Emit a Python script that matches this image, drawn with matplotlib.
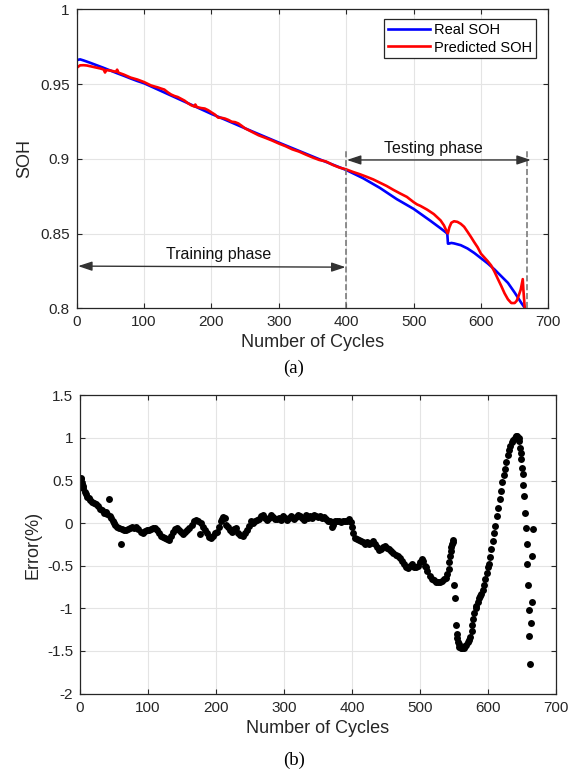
import matplotlib
matplotlib.use("Agg")
import matplotlib.pyplot as plt
from matplotlib.ticker import FuncFormatter, MultipleLocator

plt.rcParams["font.family"] = ["Liberation Sans", "DejaVu Sans"]
plt.rcParams["axes.unicode_minus"] = False

# measured capacity ratio
cycles_real = [0, 5, 10, 20, 30, 40, 50, 60, 70, 80, 90, 100, 120, 140, 160, 180,
               200, 220, 240, 260, 280, 300, 320, 340, 360, 380, 400, 425, 450,
               475, 500, 525, 540, 550, 551, 553, 556, 560, 570, 580, 590, 600,
               610, 620, 630, 640, 650, 660, 667]
soh_real = [0.9660, 0.9665, 0.9658, 0.9642, 0.9625, 0.9608, 0.9590, 0.9572, 0.9555,
            0.9537, 0.9520, 0.9505, 0.9464, 0.9423, 0.9382, 0.9341, 0.9300, 0.9262,
            0.9223, 0.9184, 0.9146, 0.9108, 0.9071, 0.9034, 0.8997, 0.8961, 0.8925,
            0.8870, 0.8805, 0.8730, 0.8665, 0.8585, 0.8535, 0.8500, 0.8432, 0.8433,
            0.8437, 0.8434, 0.8422, 0.8400, 0.8370, 0.8335, 0.8300, 0.8260, 0.8215,
            0.8170, 0.8105, 0.8035, 0.7990]

# model output
cycles_pred = [0, 5, 10, 15, 20, 25, 30, 35, 40, 42, 44, 50, 55, 58, 60, 62, 70, 80,
               90, 100, 110, 115, 120, 125, 130, 135, 140, 145, 150, 155, 160, 165,
               170, 175, 176, 178, 180, 185, 190, 195, 200, 205, 210, 215, 220, 225,
               230, 235, 240, 245, 250, 260, 270, 280, 290, 300, 310, 320, 330, 340,
               350, 360, 370, 380, 390, 400, 410, 420, 430, 440, 450, 460, 470, 480,
               490, 500, 505, 510, 520, 530, 540, 545, 550, 551, 553, 556, 560, 565,
               570, 575, 580, 585, 590, 595, 600, 605, 610, 615, 620, 625, 630, 635,
               640, 645, 650, 653, 656, 659, 662, 663, 664, 665, 666]
soh_pred = [0.9609, 0.9625, 0.9626, 0.9624, 0.9619, 0.9614, 0.9609, 0.9604, 0.9597,
            0.9577, 0.9593, 0.9590, 0.9585, 0.9582, 0.9596, 0.9576, 0.9563, 0.9543,
            0.9530, 0.9513, 0.9491, 0.9484, 0.9478, 0.9470, 0.9463, 0.9445, 0.9430,
            0.9420, 0.9413, 0.9401, 0.9389, 0.9372, 0.9358, 0.9349, 0.9363, 0.9348,
            0.9344, 0.9339, 0.9336, 0.9325, 0.9310, 0.9296, 0.9275, 0.9274, 0.9269,
            0.9260, 0.9248, 0.9245, 0.9236, 0.9220, 0.9203, 0.9180, 0.9157, 0.9140,
            0.9122, 0.9102, 0.9084, 0.9063, 0.9048, 0.9028, 0.9009, 0.8992, 0.8982,
            0.8959, 0.8941, 0.8929, 0.8912, 0.8897, 0.8880, 0.8862, 0.8840, 0.8818,
            0.8792, 0.8768, 0.8745, 0.8710, 0.8695, 0.8685, 0.8660, 0.8630, 0.8588,
            0.8555, 0.8505, 0.8502, 0.8540, 0.8572, 0.8582, 0.8578, 0.8565, 0.8545,
            0.8512, 0.8478, 0.8442, 0.8408, 0.8365, 0.8340, 0.8315, 0.8287, 0.8245,
            0.8197, 0.8150, 0.8100, 0.8060, 0.8035, 0.8035, 0.8050, 0.8085, 0.8125,
            0.8195, 0.8120, 0.8060, 0.8000, 0.7990]

# prediction error in percent
err_cycles = [1, 2, 3, 4, 5, 7, 9, 11, 13, 15, 18, 21, 24, 27, 30, 33, 36, 38, 40, 42,
              44, 46, 48, 50, 52, 55, 58, 60, 62, 65, 68, 71, 74, 77, 80, 83, 86, 89,
              92, 95, 98, 101, 104, 107, 110, 113, 116, 119, 122, 125, 128, 131, 134,
              137, 140, 143, 146, 149, 152, 155, 158, 161, 164, 167, 170, 173, 176,
              178, 181, 184, 187, 190, 193, 196, 199, 202, 205, 207, 209, 211, 213,
              215, 218, 221, 224, 227, 230, 233, 236, 239, 242, 245, 248, 251, 254,
              257, 260, 263, 266, 269, 272, 275, 278, 281, 284, 287, 290, 293, 296,
              299, 302, 305, 308, 311, 314, 317, 320, 323, 326, 329, 332, 335, 338,
              341, 344, 347, 350, 353, 356, 359, 362, 365, 368, 370, 372, 375, 378,
              381, 384, 387, 390, 393, 396, 398, 400, 402, 404, 407, 410, 413, 416,
              419, 422, 425, 428, 431, 434, 437, 440, 443, 446, 449, 452, 455, 458,
              461, 464, 467, 470, 473, 476, 479, 482, 485, 488, 491, 494, 497, 500,
              503, 505, 507, 509, 511, 514, 517, 520, 523, 526, 529, 532, 535, 538,
              540, 542, 543, 544, 545, 546, 547, 548, 549, 550, 551, 553, 554, 555,
              556, 557, 558, 560, 562, 564, 566, 568, 570, 572, 574, 576, 577, 578,
              580, 582, 583, 585, 587, 588, 590, 592, 594, 596, 598, 600, 601, 603,
              605, 607, 609, 611, 613, 615, 617, 619, 621, 623, 625, 627, 629, 631,
              633, 635, 637, 639, 641, 643, 645, 646, 647, 648, 649, 650, 651, 652,
              653, 654, 656, 657, 658, 659, 660, 661, 662, 663, 664, 665, 666]
err_values = [0.53, 0.52, 0.47, 0.44, 0.41, 0.37, 0.34, 0.31, 0.29, 0.27, 0.25, 0.24,
              0.22, 0.20, 0.17, 0.15, 0.12, 0.13, 0.11, 0.28, 0.08, 0.06, 0.03, 0.00,
              -0.02, -0.04, -0.06, -0.25, -0.07, -0.08, -0.08, -0.07, -0.06, -0.05,
              -0.06, -0.04, -0.07, -0.10, -0.12, -0.09, -0.08, -0.08, -0.07, -0.06,
              -0.06, -0.08, -0.12, -0.15, -0.16, -0.17, -0.19, -0.20, -0.15, -0.10,
              -0.07, -0.06, -0.08, -0.10, -0.13, -0.10, -0.08, -0.06, -0.02, 0.02,
              0.04, 0.02, -0.13, 0.00, -0.04, -0.08, -0.12, -0.16, -0.18, -0.15,
              -0.12, -0.10, -0.05, 0.02, 0.05, 0.07, 0.06, -0.02, -0.05, -0.08, -0.10,
              -0.07, -0.06, -0.11, -0.14, -0.15, -0.12, -0.08, -0.03, 0.02, 0.00, 0.02,
              0.04, 0.05, 0.08, 0.10, 0.06, 0.04, 0.06, 0.09, 0.07, 0.05, 0.05, 0.06,
              0.04, 0.08, 0.06, 0.04, 0.06, 0.08, 0.05, 0.07, 0.10, 0.08, 0.06, 0.04,
              0.09, 0.06, 0.08, 0.06, 0.10, 0.08, 0.07, 0.08, 0.06, 0.07, 0.05, 0.03,
              0.02, -0.04, -0.02, 0.02, 0.03, 0.02, 0.01, 0.02, 0.02, 0.03, 0.05, 0.01,
              -0.05, -0.12, -0.17, -0.19, -0.20, -0.21, -0.22, -0.24, -0.22, -0.25,
              -0.23, -0.21, -0.24, -0.28, -0.31, -0.30, -0.28, -0.27, -0.29, -0.30,
              -0.33, -0.35, -0.37, -0.38, -0.41, -0.44, -0.48, -0.51, -0.53, -0.50,
              -0.48, -0.51, -0.52, -0.50, -0.46, -0.42, -0.44, -0.50, -0.52, -0.56,
              -0.62, -0.65, -0.67, -0.69, -0.69, -0.69, -0.68, -0.66, -0.64, -0.60,
              -0.54, -0.46, -0.39, -0.33, -0.28, -0.25, -0.22, -0.20, -0.73, -0.88,
              -1.20, -1.30, -1.35, -1.39, -1.42, -1.45, -1.47, -1.47, -1.46, -1.44,
              -1.43, -1.40, -1.37, -1.33, -1.27, -1.20, -1.13, -1.06, -1.00, -0.97,
              -0.93, -0.88, -0.86, -0.83, -0.78, -0.72, -0.66, -0.58, -0.52, -0.48,
              -0.40, -0.30, -0.21, -0.12, -0.03, 0.08, 0.18, 0.28, 0.38, 0.48, 0.56,
              0.64, 0.72, 0.80, 0.86, 0.90, 0.95, 0.98, 1.00, 1.02, 1.02, 1.00, 0.96,
              0.88, 0.82, 0.75, 0.65, 0.58, 0.45, 0.32, 0.12, -0.06, -0.25, -0.48,
              -0.72, -1.02, -1.32, -1.65, -1.17, -0.93, -0.38, -0.07]

axis_col = "#262626"
grid_col = "#e4e4e4"
fmt = FuncFormatter(lambda v, p: "%g" % round(v, 4))


def style_axes(ax):
    ax.grid(True, color=grid_col, linewidth=0.8)
    ax.set_axisbelow(True)
    ax.tick_params(direction="in", length=3.5, width=0.8, top=True, right=True,
                   labelsize=11, colors=axis_col, pad=5)
    for sp in ax.spines.values():
        sp.set_color(axis_col)
        sp.set_linewidth(0.9)
    ax.xaxis.set_major_locator(MultipleLocator(100))
    ax.xaxis.set_major_formatter(fmt)
    ax.yaxis.set_major_formatter(fmt)


fig = plt.figure(figsize=(5.76, 7.73), dpi=100)

# (a) SOH curves
ax1 = fig.add_axes([0.1332, 0.6012, 0.8188, 0.3868])
style_axes(ax1)
ax1.plot(cycles_real, soh_real, color="#0000ff", lw=1.9, label="Real SOH")
ax1.plot(cycles_pred, soh_pred, color="#ff0000", lw=1.9, label="Predicted SOH")
ax1.set_xlim(0, 700)
ax1.set_ylim(0.8, 1.0)
ax1.yaxis.set_major_locator(MultipleLocator(0.05))

for xv in (400, 668):
    ax1.plot([xv, xv], [0.8, 0.906], color="#707070", lw=1.1,
             linestyle=(0, (4, 1.8)), zorder=3)

arrow_kw = dict(arrowstyle="<|-|>,head_length=0.6,head_width=0.2",
                color="#333333", lw=1.0, mutation_scale=14, shrinkA=0, shrinkB=0)
ax1.annotate("", xy=(399, 0.8275), xytext=(2, 0.8282), arrowprops=arrow_kw)
ax1.annotate("", xy=(674, 0.8992), xytext=(401, 0.8992), arrowprops=arrow_kw)
ax1.text(210, 0.8363, "Training phase", ha="center", va="center", fontsize=11.5,
         color="#111111")
ax1.text(530, 0.9068, "Testing phase", ha="center", va="center", fontsize=11.5,
         color="#111111")

leg = ax1.legend(loc="upper right", bbox_to_anchor=(0.974, 0.9666), borderaxespad=0,
                 fontsize=10.5, fancybox=False, framealpha=1, edgecolor=axis_col,
                 handlelength=2.9, handletextpad=0.3, borderpad=0.25,
                 labelspacing=0.25)
leg.get_frame().set_linewidth(0.9)

ax1.set_xlabel("Number of Cycles", fontsize=13, color=axis_col)
ax1.set_ylabel("SOH", fontsize=13, color=axis_col)
ax1.xaxis.set_label_coords(0.5, -0.116)
ax1.xaxis.label.set_va("center")
ax1.yaxis.set_label_coords(-0.1105, 0.5)
ax1.yaxis.label.set_va("center")

# (b) prediction error
ax2 = fig.add_axes([0.1389, 0.1027, 0.8264, 0.3859])
style_axes(ax2)
ax2.plot(err_cycles, err_values, "o", color="black", markersize=5,
         markeredgewidth=0)
ax2.set_xlim(0, 700)
ax2.set_ylim(-2, 1.5)
ax2.yaxis.set_major_locator(MultipleLocator(0.5))
ax2.set_xlabel("Number of Cycles", fontsize=13, color=axis_col)
ax2.set_ylabel("Error(%)", fontsize=13, color=axis_col)
ax2.xaxis.set_label_coords(0.5, -0.1153)
ax2.xaxis.label.set_va("center")
ax2.yaxis.set_label_coords(-0.0987, 0.5)
ax2.yaxis.label.set_va("center")

fig.text(0.5104, 0.5239, "(a)", ha="center", va="center", fontsize=13.5,
         family="Liberation Serif")
fig.text(0.5104, 0.0168, "(b)", ha="center", va="center", fontsize=13.5,
         family="Liberation Serif")

fig.savefig("out.png", dpi=100)
